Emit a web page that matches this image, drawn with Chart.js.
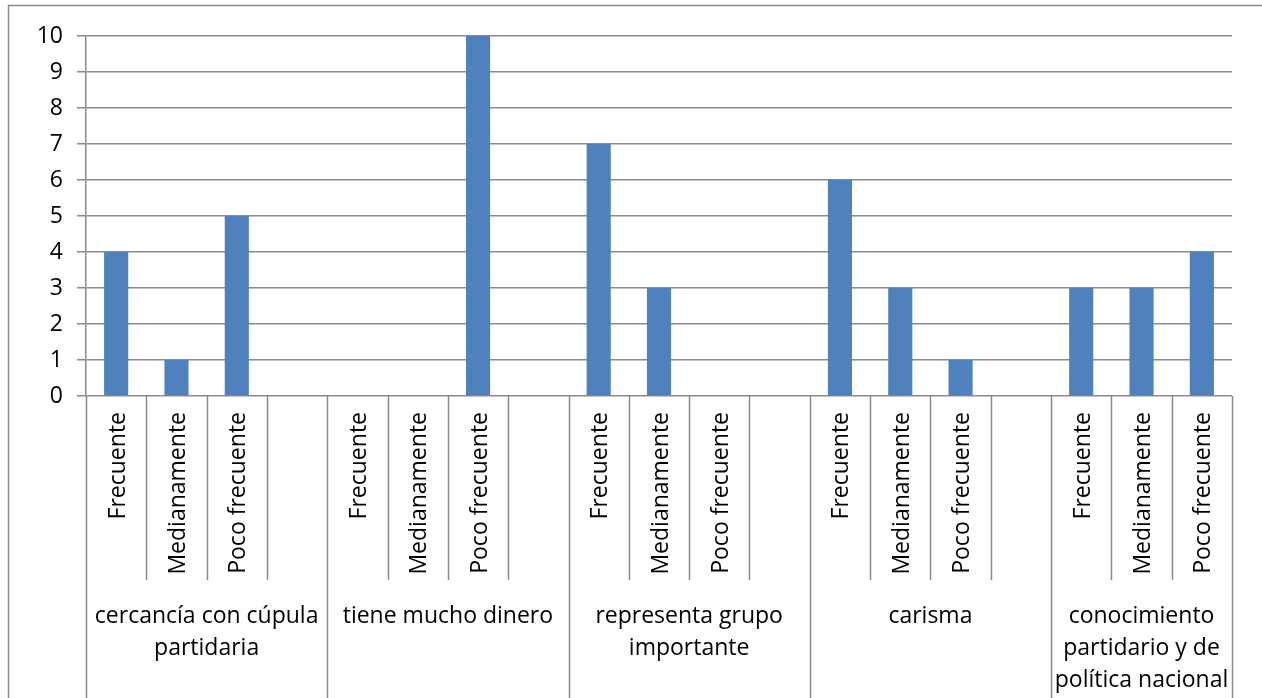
<!DOCTYPE html>
<html>
<head>
<meta charset="utf-8">
<script src="https://cdn.jsdelivr.net/npm/chart.js@4/dist/chart.umd.min.js"></script>
<style>
  html, body { margin: 0; padding: 0; background: #fff; }
  #wrap { width: 1262px; height: 698px; position: relative; }
</style>
</head>
<body>
<div id="wrap"><canvas id="chart"></canvas></div>
<script>
// data
const groupNames = [
  ['cercancía con cúpula', 'partidaria'],
  ['tiene mucho dinero'],
  ['representa grupo', 'importante'],
  ['carisma'],
  ['conocimiento', 'partidario y de', 'política nacional']
];
const levelNames = ['Frecuente', 'Medianamente', 'Poco frecuente', ''];
const groupSizes = [4, 4, 4, 4, 3];
const values = [4, 1, 5, null, 0, 0, 10, null, 7, 3, 0, null, 6, 3, 1, null, 3, 3, 4];
const yTicks = [0, 1, 2, 3, 4, 5, 6, 7, 8, 9, 10];

const FONT = '"Open Sans", sans-serif';
const LINE = '#8a8a8a';

// flat category list
const labels = [];
groupSizes.forEach(n => {
  for (let k = 0; k < n; k++) labels.push(levelNames[k]);
});

// draws frame, two-level category labels and their divider lines
const multiLevelAxis = {
  id: 'multiLevelAxis',
  afterDraw(chart) {
    const ctx = chart.ctx;
    const x = chart.scales.x;
    const area = chart.chartArea;
    const n = labels.length;
    const step = (area.right - area.left) / n;
    ctx.save();
    ctx.strokeStyle = LINE;
    ctx.lineWidth = 1.5;
    // outer frame
    ctx.beginPath();
    ctx.moveTo(8.5, chart.height + 2);
    ctx.lineTo(8.5, 5.5);
    ctx.lineTo(chart.width + 2, 5.5);
    ctx.stroke();

    // divider lines
    let start = 0;
    const groupEdges = [0];
    groupSizes.forEach(s => { start += s; groupEdges.push(start); });
    for (let i = 0; i <= n; i++) {
      const px = Math.round(area.left + i * step) + 0.5;
      const isGroup = groupEdges.includes(i);
      ctx.beginPath();
      ctx.moveTo(px, area.bottom);
      ctx.lineTo(px, isGroup ? chart.height : 580);
      ctx.stroke();
    }

    // inner labels (rotated)
    ctx.fillStyle = '#000';
    ctx.font = '23px ' + FONT;
    labels.forEach((lab, i) => {
      if (!lab) return;
      const cx = x.getPixelForValue(i);
      ctx.save();
      ctx.translate(cx + 2, 412);
      ctx.rotate(-Math.PI / 2);
      ctx.textAlign = 'right';
      ctx.textBaseline = 'middle';
      ctx.fillText(lab, 0, 0);
      ctx.restore();
    });

    // group labels
    ctx.textAlign = 'center';
    ctx.textBaseline = 'middle';
    groupNames.forEach((lines, g) => {
      const l = area.left + groupEdges[g] * step;
      const r = area.left + groupEdges[g + 1] * step;
      lines.forEach((t, j) => {
        ctx.fillText(t, (l + r) / 2, 616 + j * 32);
      });
    });
    ctx.restore();
  }
};

new Chart(document.getElementById('chart'), {
  type: 'bar',
  data: {
    labels: labels,
    datasets: [{
      data: values,
      backgroundColor: '#4f81bd',
      barPercentage: 0.4,
      categoryPercentage: 1.0
    }]
  },
  options: {
    responsive: true,
    maintainAspectRatio: false,
    animation: false,
    layout: { padding: { top: 36, right: 30, left: 0, bottom: 0 } },
    plugins: { legend: { display: false }, tooltip: { enabled: false } },
    scales: {
      x: {
        afterFit(scale) { scale.height = 302; },
        ticks: { display: false },
        grid: { display: false },
        border: { display: false }
      },
      y: {
        min: 0,
        max: 10,
        afterFit(scale) { scale.width = 86; },
        afterBuildTicks(scale) { scale.ticks = yTicks.map(v => ({ value: v })); },
        ticks: { color: '#000', font: { family: FONT, size: 23 }, padding: 14 },
        grid: { color: LINE, lineWidth: 1.5, tickLength: 9 },
        border: { color: LINE, width: 1.5 }
      }
    }
  },
  plugins: [multiLevelAxis]
});
</script>
</body>
</html>
